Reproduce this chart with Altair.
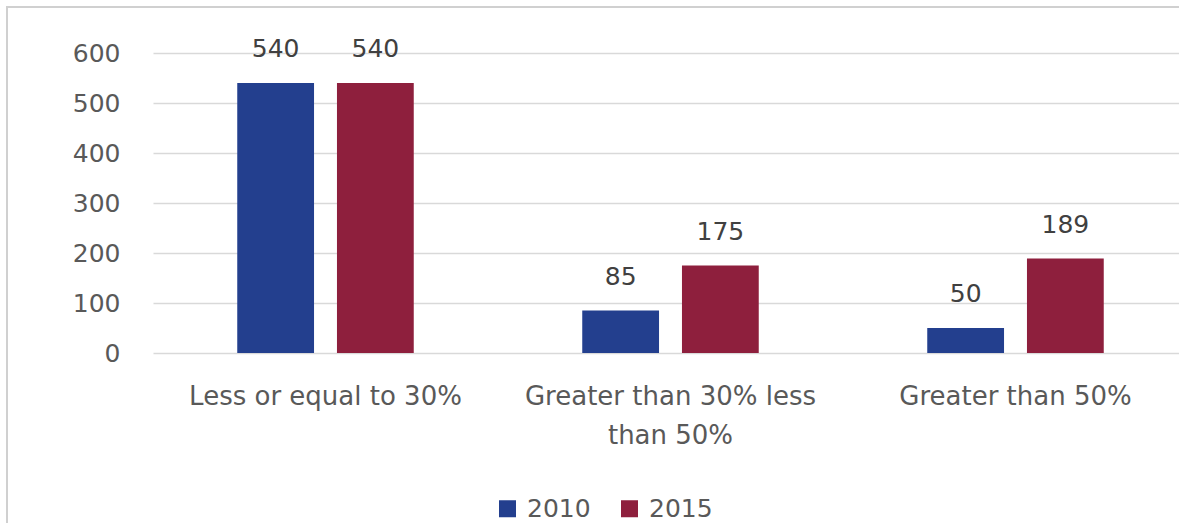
import altair as alt
import pandas as pd

categories = ["Less or equal to 30%", "Greater than 30% less than 50%", "Greater than 50%"]
label_lines = [["Less or equal to 30%"], ["Greater than 30% less", "than 50%"], ["Greater than 50%"]]
years = ["2010", "2015"]
values_2010 = [540, 85, 50]
values_2015 = [540, 175, 189]
y_ticks = [0, 100, 200, 300, 400, 500, 600]
colors = ["#233F8E", "#8E1F3D"]

rows = []
for i, c in enumerate(categories):
    rows.append({"category": c, "year": years[0], "value": values_2010[i]})
    rows.append({"category": c, "year": years[1], "value": values_2015[i]})
df = pd.DataFrame(rows)

# multi-line axis labels
expr = "datum.label"
for c, lines in zip(categories, label_lines):
    arr = "[" + ",".join("'" + l + "'" for l in lines) + "]"
    expr = f"datum.label == '{c}' ? {arr} : ({expr})"

FONT = "DejaVu Sans"

base = alt.Chart(df)

x_enc = alt.X(
    "category:N",
    sort=categories,
    scale=alt.Scale(paddingInner=0.4884, paddingOuter=0.2442, range=[0, 1035]),
    axis=alt.Axis(
        title=None, labelAngle=0, ticks=False, domain=False,
        labelExpr=expr, labelFontSize=26, labelColor="#595959",
        labelPadding=30, labelLineHeight=39, labelFont=FONT, labelLimit=0,
    ),
)
y_enc = alt.Y(
    "value:Q",
    scale=alt.Scale(domain=[0, 600], nice=False),
    axis=alt.Axis(
        title=None, values=y_ticks, ticks=False, domain=False,
        labelFontSize=25, labelColor="#595959", labelPadding=33,
        labelFont=FONT, gridColor="#d9d9d9", gridWidth=1.5,
    ),
)
xoff = alt.XOffset("year:N", sort=years, scale=alt.Scale(paddingInner=0.23, paddingOuter=0))

bars = base.mark_bar().encode(
    x=x_enc,
    y=y_enc,
    xOffset=xoff,
    color=alt.Color(
        "year:N",
        sort=years,
        scale=alt.Scale(domain=years, range=colors),
        legend=alt.Legend(
            title=None, orient="none", direction="horizontal",
            legendX=342, legendY=443, symbolType="square", symbolSize=289,
            symbolStrokeWidth=0, labelFontSize=25, labelColor="#595959",
            labelFont=FONT, labelOffset=7, columnPadding=26, padding=0,
        ),
    ),
)

labels = base.mark_text(
    baseline="alphabetic", dy=-26, fontSize=25, color="#404040", font=FONT
).encode(
    x=alt.X("category:N", sort=categories),
    y=alt.Y("value:Q"),
    xOffset=alt.XOffset("year:N", sort=years),
    text=alt.Text("value:Q"),
)

frame_data = pd.DataFrame({"f": [0]})
frame_left = alt.Chart(frame_data).mark_rule(color="#d0d0d0", strokeWidth=2).encode(
    x=alt.value(-146), y=alt.value(-47), y2=alt.value(470)
)
frame_top = alt.Chart(frame_data).mark_rule(color="#d0d0d0", strokeWidth=2).encode(
    x=alt.value(-147), x2=alt.value(1040), y=alt.value(-46)
)

chart = alt.layer(frame_left, frame_top, bars, labels).properties(
    width=1020,
    height=300,
    padding={"left": 153, "top": 53, "right": 6, "bottom": 170},
    autosize=alt.AutoSizeParams(type="none"),
    background="white",
).configure_view(stroke=None)

chart.save("out.html", embed_options={"renderer": "svg", "actions": False})
